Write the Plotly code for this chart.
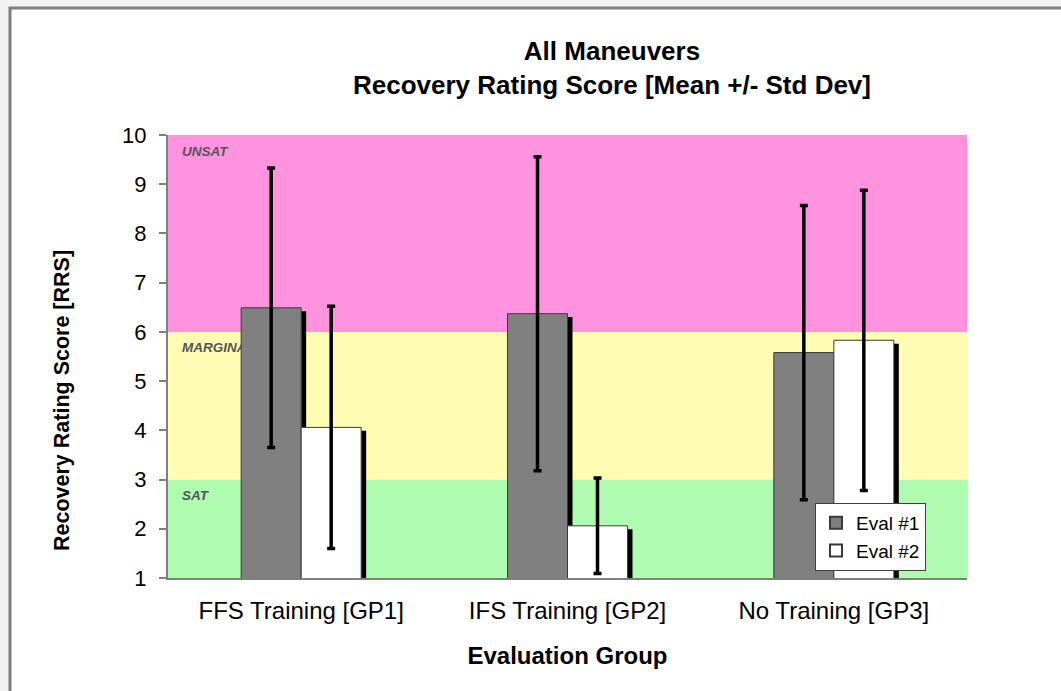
import plotly.graph_objects as go

categories = ["FFS Training [GP1]", "IFS Training [GP2]", "No Training [GP3]"]
eval1_mean = [6.49, 6.37, 5.58]
eval1_std = [2.84, 3.19, 2.99]
eval2_mean = [4.06, 2.06, 5.83]
eval2_std = [2.46, 0.97, 3.05]
series_names = ["Eval #1", "Eval #2"]
y_ticks = [1, 2, 3, 4, 5, 6, 7, 8, 9, 10]
zones = [(1, 3, "SAT", "#AFFCB0"), (3, 6, "MARGINAL", "#FFFDB3"), (6, 10, "UNSAT", "#FF93DF")]

W, H = 1061, 691
ML, MR, MT, MB = 168, 94, 135, 113
plot_w = W - ML - MR
plot_h = H - MT - MB
px_per_unit = plot_h / (y_ticks[-1] - y_ticks[0])

xidx = list(range(len(categories)))
bw = 60 / (plot_w / len(categories))      # bar width in category units
sw = 5 / (plot_w / len(categories))       # shadow width
drop = 0.07                               # shadow top drop

fig = go.Figure()

# shadows
for k, means in enumerate([eval1_mean, eval2_mean]):
    off = k * bw
    fig.add_trace(go.Bar(
        x=xidx, y=[m - drop for m in means], width=sw, offset=off,
        marker=dict(color="#000000", line=dict(width=0)),
        showlegend=False, hoverinfo="skip"))

colors = ["#808080", "#FFFFFF"]
for k, (means, stds) in enumerate([(eval1_mean, eval1_std), (eval2_mean, eval2_std)]):
    fig.add_trace(go.Bar(
        x=xidx, y=means, width=bw, offset=-bw + k * bw, name=series_names[k],
        marker=dict(color=colors[k], line=dict(color="#3A3A3A", width=1)),
        error_y=dict(type="data", array=stds, visible=True, color="#000000",
                     thickness=3.5, width=4)))

shapes = []
# outer frame (first so it sits underneath)
shapes.append(dict(type="rect", xref="paper", yref="paper",
                   x0=(10 - ML) / plot_w, x1=1.3, y0=-0.5, y1=(H - MB - 8) / plot_h,
                   fillcolor="#FFFFFF", line=dict(color="#7F7F7F", width=3), layer="below"))
for lo, hi, label, col in zones:
    shapes.append(dict(type="rect", xref="paper", yref="y", x0=0, x1=1, y0=lo, y1=hi,
                       fillcolor=col, line=dict(width=0), layer="below"))
for lo, hi, label, col in zones:
    shapes.append(dict(type="rect", xref="paper", yref="y",
                       x0=8 / plot_w, x1=0.5, y0=lo, y1=hi - 4 / px_per_unit,
                       fillcolor="rgba(0,0,0,0)", line=dict(width=0), layer="below",
                       label=dict(text="<b><i>" + label + "</i></b>", textposition="top left",
                                  padding=3, font=dict(family="Liberation Sans", size=13.5, color="#555555"))))

fig.update_layout(
    width=W, height=H,
    margin=dict(l=ML, r=MR, t=MT, b=MB),
    paper_bgcolor="#F2F2F2", plot_bgcolor="rgba(0,0,0,0)",
    barmode="overlay",
    font=dict(family="Liberation Sans", color="#000000"),
    title=dict(text="<b>All Maneuvers<br>Recovery Rating Score [Mean +/- Std Dev]</b>",
               x=612 / W, xanchor="center", y=1 - 60 / H, yanchor="top",
               font=dict(size=26, family="Liberation Sans")),
    shapes=shapes,
    annotations=[dict(text="<b>Recovery Rating Score [RRS]</b>", textangle=-90,
                      xref="paper", yref="paper", x=(62 - ML) / plot_w, y=(H - MB - 400) / plot_h,
                      xanchor="center", yanchor="middle", showarrow=False,
                      font=dict(size=21.5))],
    legend=dict(x=(815 - ML) / plot_w, y=(H - MB - 503) / plot_h, xanchor="left", yanchor="top",
                bgcolor="#FFFFFF", bordercolor="#404040", borderwidth=1,
                font=dict(size=19), itemsizing="constant", tracegroupgap=4,
                entrywidth=95, entrywidthmode="pixels"),
    showlegend=True,
)
fig.update_xaxes(range=[-0.5, 2.5], tickvals=xidx, ticktext=categories,
                 tickfont=dict(size=24), showline=True, linecolor="#7F7F7F", linewidth=2,
                 ticks="", showgrid=False, zeroline=False, ticklabelstandoff=10,
                 title=dict(text="<b>Evaluation Group</b>", font=dict(size=24), standoff=24))
fig.update_yaxes(range=[1, 10], tickvals=y_ticks, tickfont=dict(size=22),
                 showline=True, linecolor="#7F7F7F", linewidth=2, ticks="outside",
                 ticklen=7, tickcolor="#7F7F7F", tickwidth=1.5, ticklabelstandoff=8,
                 showgrid=False, zeroline=False)

fig.write_html("out.html", config={"displayModeBar": False},
               post_script="document.body.style.margin='0';document.body.style.background='#F2F2F2';")
